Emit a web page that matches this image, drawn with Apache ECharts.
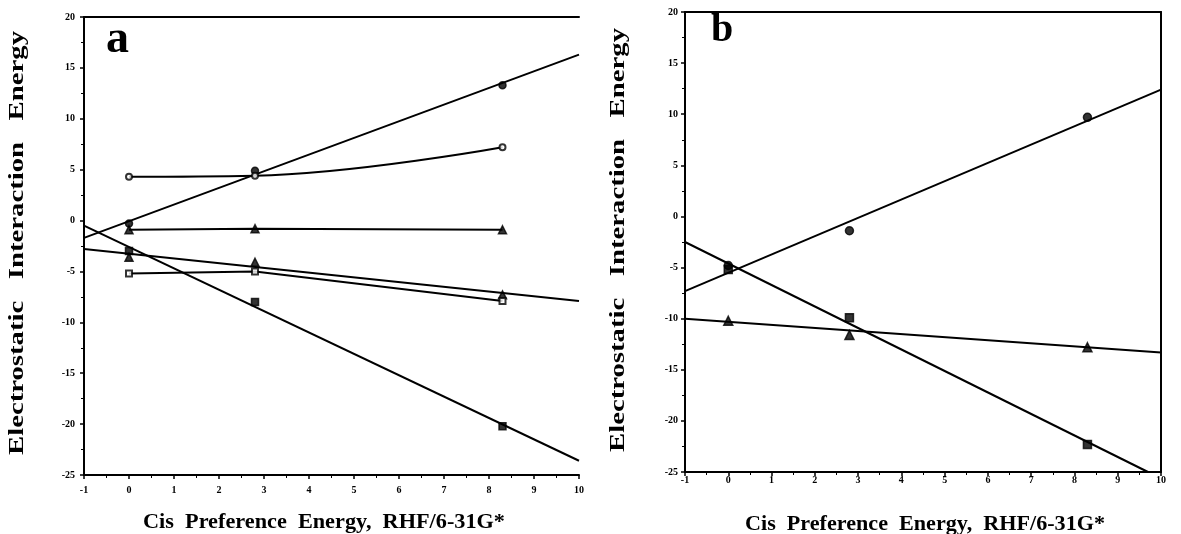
<!DOCTYPE html>
<html>
<head>
<meta charset="utf-8">
<script src="https://cdn.jsdelivr.net/npm/echarts@6/dist/echarts.min.js"></script>
<style>
html, body { margin: 0; padding: 0; background: #fff; }
#chart { width: 1181px; height: 534px; }
</style>
</head>
<body>
<div id="chart"></div>
<script>
var xPts = [0, 2.8, 8.3];

// panel a
var aFilledCircle = [-0.3, 4.9, 13.3];
var aOpenCircle = [4.3, 4.4, 7.2];
var aTriangleTop = [-0.9, -0.8, -0.9];
var aTriangleLow = [-3.6, -4.1, -7.3];
var aOpenSquare = [-5.2, -5.0, -7.9];
var aFilledSquare = [-3.0, -8.0, -20.2];
var aFitCircle = [[-1, -1.7], [10, 16.3]];
var aFitTriangle = [[-1, -2.8], [10, -7.9]];
var aFitSquare = [[-1, -0.5], [10, -23.6]];

// panel b
var bFilledCircle = [-4.8, -1.4, 9.7];
var bFilledSquare = [-5.2, -9.9, -22.3];
var bTriangle = [-10.2, -11.6, -12.8];
var bFitCircle = [[-1, -7.3], [10, 12.4]];
var bFitSquare = [[-1, -2.5], [9.7, -25]];
var bFitTriangle = [[-1, -10.0], [10, -13.3]];

var xTitle = 'Cis  Preference  Energy,  RHF/6-31G*';
var yTitle = 'Electrostatic   Interaction   Energy';

var font = '"Liberation Serif", "DejaVu Serif", serif';

// stretch factor so a title covers the same length as in the scan
function stretch(text, css, target) {
    var ctx = document.createElement('canvas').getContext('2d');
    ctx.font = css;
    return target / ctx.measureText(text).width;
}

function pts(ys) {
    return xPts.map(function(x, i){ return [x, ys[i]]; });
}

function marks(idx, ys, symbol, size) {
    return {
        type: 'scatter', xAxisIndex: idx, yAxisIndex: idx,
        data: pts(ys), symbol: symbol, symbolSize: size || 7,
        itemStyle: { color: '#000', borderColor: '#000', borderWidth: 1.5 },
        z: 5
    };
}

function line(idx, data, smooth) {
    return {
        type: 'line', xAxisIndex: idx, yAxisIndex: idx,
        data: data, showSymbol: false, smooth: smooth || false,
        lineStyle: { color: '#000', width: 2 },
        clip: true, silent: true
    };
}

function xAxis(idx, pos, bare, margin) {
    return {
        type: 'value', gridIndex: idx, position: pos,
        min: -1, max: 10, interval: 1,
        axisLine: { show: true, onZero: false, lineStyle: { color: '#000', width: 2 } },
        axisTick: { show: !bare, length: 4, lineStyle: { color: '#000', width: 1.5 } },
        minorTick: { show: !bare, splitNumber: 2, length: 3, lineStyle: { color: '#000' } },
        axisLabel: { show: !bare, color: '#000', fontFamily: font, fontWeight: 'bold', fontSize: 10, margin: margin || 8 },
        splitLine: { show: false }
    };
}

function yAxis(idx, pos, bare, margin) {
    return {
        type: 'value', gridIndex: idx, position: pos,
        min: -25, max: 20, interval: 5,
        axisLine: { show: true, onZero: false, lineStyle: { color: '#000', width: 2 } },
        axisTick: { show: !bare, length: 4, lineStyle: { color: '#000', width: 1.5 } },
        minorTick: { show: !bare, splitNumber: 2, length: 3, lineStyle: { color: '#000' } },
        axisLabel: { show: !bare, color: '#000', fontFamily: font, fontWeight: 'bold', fontSize: 10, margin: margin || 6 },
        splitLine: { show: false }
    };
}

var xCss = 'bold 21px ' + font;
var yCss = 'bold 20px ' + font;
var xScaleA = stretch(xTitle, xCss, 362);
var xScaleB = stretch(xTitle, xCss, 360);
var yScale = stretch(yTitle, yCss, 424);

var chart = echarts.init(document.getElementById('chart'));
chart.setOption({
    animation: false,
    backgroundColor: '#fff',
    grid: [
        { left: 84, top: 17, width: 495, height: 458 },
        { left: 685, top: 12, width: 476, height: 460 }
    ],
    xAxis: [xAxis(0, 'bottom', false, 10), xAxis(1, 'bottom', false, 3), xAxis(0, 'top', true), xAxis(1, 'top', true)],
    yAxis: [yAxis(0, 'left', false, 9), yAxis(1, 'left', false, 7), yAxis(1, 'right', true)],
    title: [
        { text: 'a', left: 101, top: 12, textStyle: { fontFamily: font, fontWeight: 'bold', fontSize: 46, color: '#000' } },
        { text: 'b', left: 706, top: 6, textStyle: { fontFamily: font, fontWeight: 'bold', fontSize: 40, color: '#000' } }
    ],
    graphic: [
        { type: 'text', x: 143, y: 512, scaleX: xScaleA, style: { text: xTitle, font: xCss, fill: '#000', textVerticalAlign: 'top' } },
        { type: 'text', x: 745, y: 514, scaleX: xScaleB, style: { text: xTitle, font: xCss, fill: '#000', textVerticalAlign: 'top' } },
        { type: 'text', x: 8, y: 455, rotation: Math.PI / 2, scaleX: yScale, style: { text: yTitle, font: yCss, fill: '#000', textVerticalAlign: 'top' } },
        { type: 'text', x: 609, y: 452, rotation: Math.PI / 2, scaleX: yScale, style: { text: yTitle, font: yCss, fill: '#000', textVerticalAlign: 'top' } }
    ],
    series: [
        line(0, aFitCircle),
        line(0, aFitTriangle),
        line(0, aFitSquare),
        line(0, pts(aOpenCircle), 0.4),
        line(0, pts(aTriangleTop)),
        line(0, pts(aOpenSquare)),
        marks(0, aFilledCircle, 'circle'),
        marks(0, aOpenCircle, 'emptyCircle', 6),
        marks(0, aTriangleTop, 'triangle', 8),
        marks(0, aTriangleLow, 'triangle', 8),
        marks(0, aOpenSquare, 'emptyRect', 6),
        marks(0, aFilledSquare, 'rect'),
        line(1, bFitCircle),
        line(1, bFitSquare),
        line(1, bFitTriangle),
        marks(1, bFilledCircle, 'circle', 8),
        marks(1, bFilledSquare, 'rect', 8),
        marks(1, bTriangle, 'triangle', 9)
    ]
});
</script>
</body>
</html>
